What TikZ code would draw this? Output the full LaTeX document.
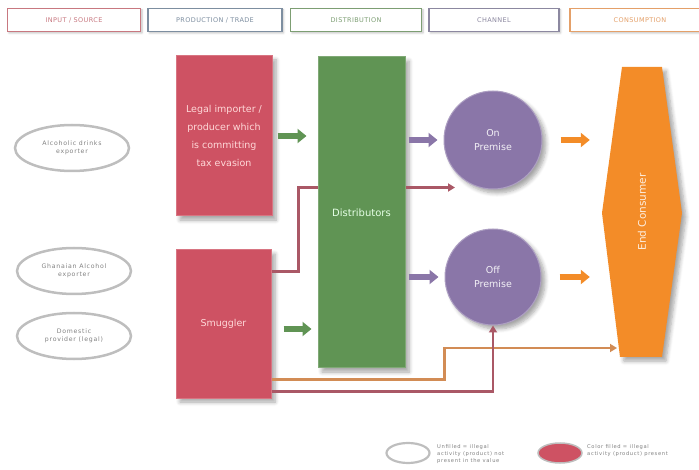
\documentclass[tikz,border=0pt]{standalone}
\usepackage{fontspec}
\setmainfont{DejaVu Sans}
\newfontfamily\widefont[LetterSpace=6]{DejaVu Sans}
\newfontfamily\widerfont[LetterSpace=12]{DejaVu Sans}
\usetikzlibrary{arrows.meta,shadows,shadows.blur,calc,shapes.geometric}
\definecolor{cred}{RGB}{206,82,99}
\definecolor{cgreen}{RGB}{96,148,84}
\definecolor{cpurple}{RGB}{138,118,168}
\definecolor{corange}{RGB}{243,140,40}
\definecolor{cmaroon}{RGB}{170,88,102}
\definecolor{corline}{RGB}{210,140,85}
\definecolor{cgrey}{RGB}{190,190,190}
\definecolor{hred}{RGB}{200,120,128}
\definecolor{hblue}{RGB}{125,142,160}
\definecolor{hgreen}{RGB}{125,158,115}
\definecolor{hpurple}{RGB}{140,136,160}
\definecolor{horange}{RGB}{228,160,105}
\begin{document}
\begin{tikzpicture}[x=1pt,y=-1pt,
  shade/.style={blur shadow={shadow blur steps=6,shadow xshift=4pt,shadow yshift=-4pt,shadow opacity=35,shadow blur radius=4pt}},
  hdr/.style={draw=#1,line width=1.8pt,fill=white,minimum height=23pt,text=#1,font=\widefont\fontsize{6.5}{7}\selectfont,inner sep=0pt,
     blur shadow={shadow blur steps=4,shadow xshift=1.5pt,shadow yshift=-1.5pt,shadow opacity=25,shadow blur radius=2pt}},
  srcell/.style={ellipse,draw=cgrey,line width=2.5pt,minimum width=114pt,minimum height=46pt,text=gray,
     font=\widerfont\fontsize{6.2}{8.5}\selectfont,align=center,inner sep=0pt},
  redbox/.style={rectangle,fill=cred,draw=cred!80!white,line width=1pt,shade,text=red!15!white,
     font=\fontsize{9.5}{18}\selectfont,align=center},
  fat/.style={line width=6pt,-{Triangle[length=9pt,width=14pt]}},
  thin/.style={line width=2.2pt,-{Triangle[length=7pt,width=8pt]}},
  thinnoarrow/.style={line width=2.2pt},
  leg/.style={font=\widerfont\fontsize{5.2}{7}\selectfont,text=gray,align=left,anchor=west,inner sep=0pt}
]
\useasboundingbox (0,0) rectangle (699,470);
\clip (0,0) rectangle (699,470);

% header boxes
\node[hdr=hred,minimum width=133pt] (h1) at (74,20) {INPUT / SOURCE};
\node[hdr=hblue,minimum width=134pt] (h2) at (215,20) {PRODUCTION / TRADE};
\node[hdr=hgreen,minimum width=131pt] (h3) at (356,20) {DISTRIBUTION};
\node[hdr=hpurple,minimum width=130pt] (h4) at (494,20) {CHANNEL};
\node[hdr=horange,minimum width=140pt] (h5) at (640,20) {CONSUMPTION};

% sources
\node[srcell] (e1) at (72,148) {Alcoholic drinks\\exporter};
\node[srcell] (e2) at (74,271) {Ghanaian Alcohol\\exporter};
\node[srcell] (e3) at (74,336) {Domestic\\provider (legal)};

% production
\node[redbox,minimum width=96pt,minimum height=160pt] (legal) at (224,136)
  {Legal importer /\\producer which\\is committing\\tax evasion};
\node[redbox,minimum width=95pt,minimum height=148pt] (smug) at (223.5,324) {Smuggler};

% distribution
\node[rectangle,fill=cgreen,draw=cgreen!80!white,line width=1pt,shade,minimum width=87pt,minimum height=311pt,
  text=green!10!white,font=\fontsize{10}{12}\selectfont] (dist) at (361.5,212.5) {Distributors};

% channel
\node[circle,fill=cpurple,draw=cpurple!70!white,line width=1pt,shade,minimum size=98pt,
  text=white!90!cpurple,font=\fontsize{9.5}{14}\selectfont,align=center] (on) at (493,140) {On\\Premise};
\node[circle,fill=cpurple,draw=cpurple!70!white,line width=1pt,shade,minimum size=96pt,
  text=white!90!cpurple,font=\fontsize{9.5}{14}\selectfont,align=center] (off) at (493,277) {Off\\Premise};

% consumption
\node[minimum width=80pt,minimum height=290pt,inner sep=0pt] (ec) at (642,212) {};
\fill[corange,shade]
  (622,67) -- (662,67) -- (682,213) -- (662,357) -- (620,357) -- (602,213) -- cycle;
\node[rotate=90,text=white!85!corange,font=\fontsize{10.5}{12}\selectfont] (eclabel) at (ec.center) {End Consumer};

% fat arrows
\draw[fat,cgreen] ([xshift=5pt]legal.east) -- ([xshift=-11pt]legal.east -| dist.west);
\draw[fat,cgreen] ($(smug.east)+(12,5)$) -- ($(smug.east -| dist.west)+(-6,5)$);
\draw[fat,cpurple] ([xshift=3pt]dist.east |- on.west) -- ([xshift=-6pt]on.west);
\draw[fat,cpurple] ([xshift=3pt]dist.east |- off.west) -- ([xshift=-6pt]off.west);
\draw[fat,corange,shorten <=18pt,shorten >=12pt] (on.east) -- (on.east -| ec.west);
\draw[fat,corange,shorten <=18pt,shorten >=12pt] (off.east) -- (off.east -| ec.west);

% thin lines
\draw[thinnoarrow,cmaroon] ($(smug.north east)+(0,22)$) -- ++(27,0) |- ($(dist.west)+(0,-25)$);
\coordinate (redend) at (455,187.5);
\draw[thin,cmaroon] ($(dist.east)+(0,-25)$) -- (redend);
\coordinate (ecin) at (617,348);
\draw[thin,corline] ($(smug.south east)+(0,-19)$) -- ++(173,0) |- (ecin);
\draw[thin,cmaroon] ($(smug.south east)+(0,-7)$) -| (off.south);

% legend
\node[ellipse,draw=cgrey,line width=2.2pt,minimum width=43pt,minimum height=20pt] (l1) at (408,453) {};
\node[leg] (l1t) at (437,454) {Unfilled = illegal\\activity (product) not\\present in the value};
\node[ellipse,fill=cred,draw=cgrey,line width=1.5pt,minimum width=44pt,minimum height=20pt] (l2) at (560,453) {};
\node[leg] (l2t) at (587,451) {Color filled = illegal\\activity (product) present};
\end{tikzpicture}
\end{document}
